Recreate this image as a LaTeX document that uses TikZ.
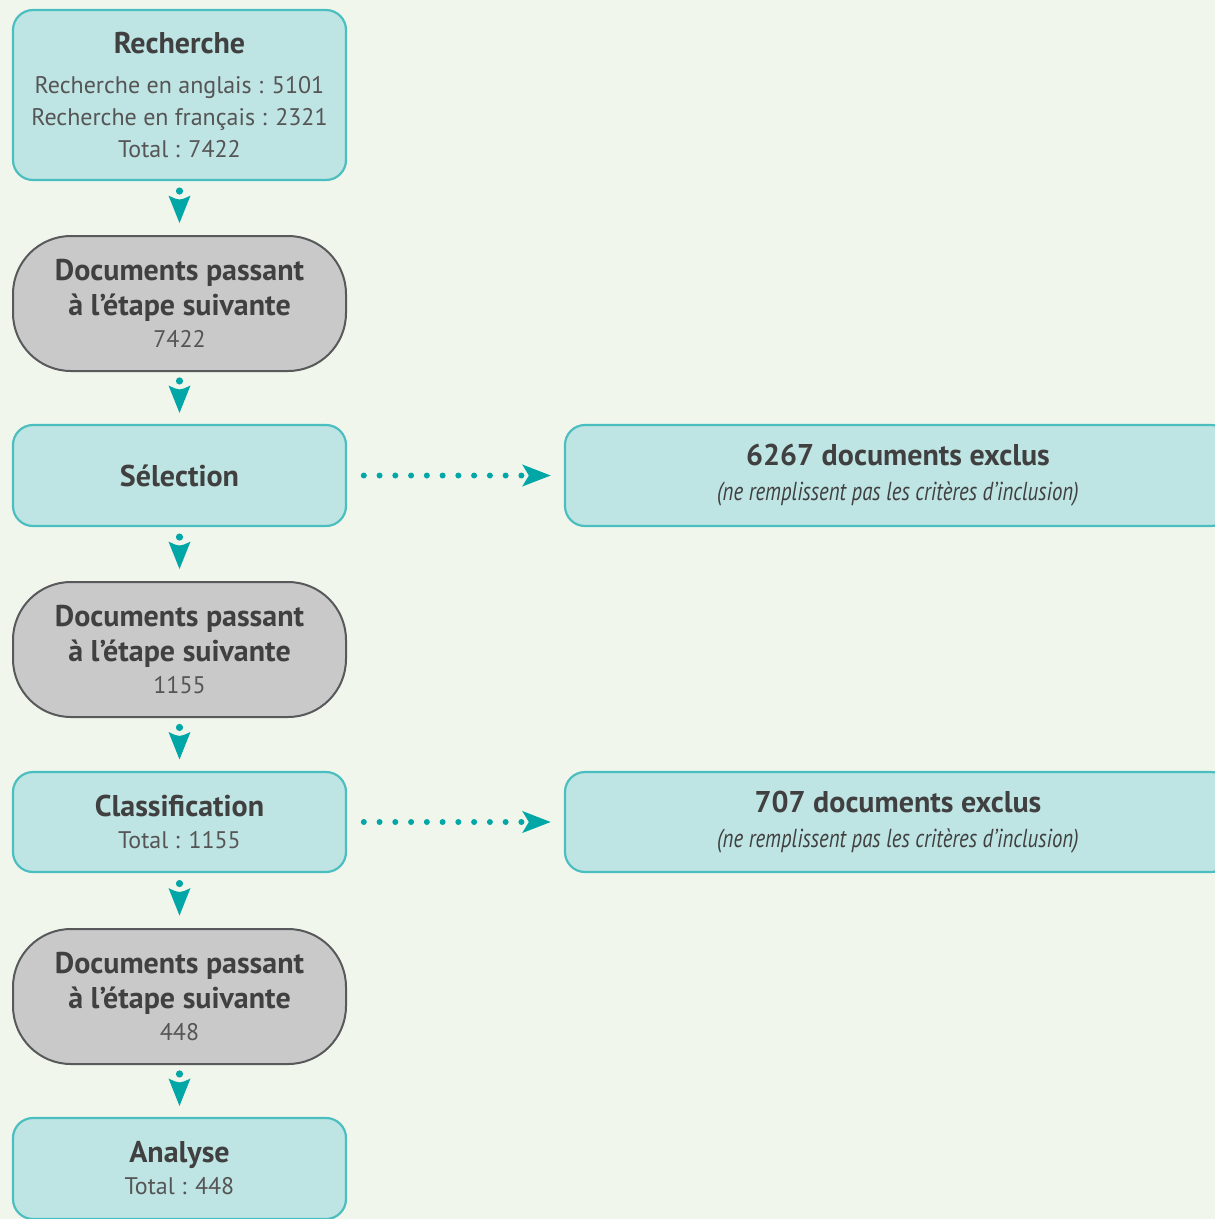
\documentclass[tikz,border=0pt]{standalone}
\usepackage{fontspec}
\setmainfont{PT Sans}
\newfontfamily\condit[FakeStretch=0.8]{PT Sans}
\usetikzlibrary{arrows.meta}
\definecolor{bgc}{HTML}{F1F6EC}
\definecolor{tfill}{HTML}{BEE4E3}
\definecolor{tline}{HTML}{4BBFC0}
\definecolor{gfill}{HTML}{C9C9CA}
\definecolor{gline}{HTML}{58595B}
\definecolor{txt}{HTML}{404040}
\definecolor{txtl}{HTML}{555555}
\definecolor{markc}{HTML}{00A7A6}
\newcommand{\ttl}[1]{{\fontsize{30}{32}\selectfont\bfseries\color{txt}#1}}
\newcommand{\sub}[1]{{\fontsize{26}{32}\selectfont\condit\itshape\color{txt}#1}}
\tikzset{
  base/.style={inner sep=0pt, align=center, text=txtl, font=\fontsize{24}{32}\selectfont, minimum width=333pt},
  tbox/.style={base, draw=tline, fill=tfill, line width=2.2pt, rounded corners=20pt},
  gbox/.style={base, draw=gline, fill=gfill, line width=2pt, rounded corners=58pt, minimum height=135pt},
  downmark/.pic={
    \fill[markc] (0,-17) circle (3.6pt);
    \fill[markc] (-11,-12.5) .. controls (0,-7.2) .. (11,-12.5) -- (0,15) -- cycle;
  },
  dotarrow/.style={draw=markc, line width=6pt, line cap=round, dash pattern=on 0pt off 15.76pt,
    -{Stealth[length=28pt, width=21pt, inset=6pt, line cap=butt, line join=miter, fill=markc]}, shorten <=16.7pt, shorten >=13pt},
}
\begin{document}
\begin{tikzpicture}[x=1pt, y=-1pt]
\useasboundingbox (0,0) rectangle (1215,1219);
\fill[bgc] (0,0) rectangle (1215,1219);
\clip (0,0) rectangle (1215,1219);

\node[tbox, minimum height=170pt] (r) at (179.5,95) {\ttl{Recherche}\\[8pt]Recherche en anglais : 5101\\Recherche en français : 2321\\Total : 7422};
\node[gbox] (g1) at (179.5,303.5) {\ttl{Documents passant}\\[3pt]\ttl{à l’étape suivante}\\7422};
\node[tbox, minimum height=101pt] (s) at (179.5,475.5) {\ttl{Sélection}};
\node[gbox] (g2) at (179.5,649.5) {\ttl{Documents passant}\\[3pt]\ttl{à l’étape suivante}\\1155};
\node[tbox, minimum height=100pt] (c) at (179.5,822) {\ttl{Classification}\\Total : 1155};
\node[gbox] (g3) at (179.5,996.5) {\ttl{Documents passant}\\[3pt]\ttl{à l’étape suivante}\\448};
\node[tbox, minimum height=101pt] (a) at (179.5,1168.5) {\ttl{Analyse}\\Total : 448};

\node[tbox, minimum width=666pt, minimum height=101pt] (e1) at (898,475.5) {\ttl{6267 documents exclus}\\[3pt]\sub{(ne remplissent pas les critères d’inclusion)}};
\node[tbox, minimum width=666pt, minimum height=100pt] (e2) at (898,822) {\ttl{707 documents exclus}\\[3pt]\sub{(ne remplissent pas les critères d’inclusion)}};

\path (r.south) -- (g1.north) pic[pos=0.5]{downmark};
\path (g1.south) -- (s.north) pic[pos=0.5]{downmark};
\path (s.south) -- (g2.north) pic[pos=0.5]{downmark};
\path (g2.south) -- (c.north) pic[pos=0.5]{downmark};
\path (c.south) -- (g3.north) pic[pos=0.5]{downmark};
\path (g3.south) -- (a.north) pic[pos=0.5]{downmark};

\draw[dotarrow] (s.east) -- (e1.west);
\draw[dotarrow] (c.east) -- (e2.west);
\end{tikzpicture}
\end{document}
